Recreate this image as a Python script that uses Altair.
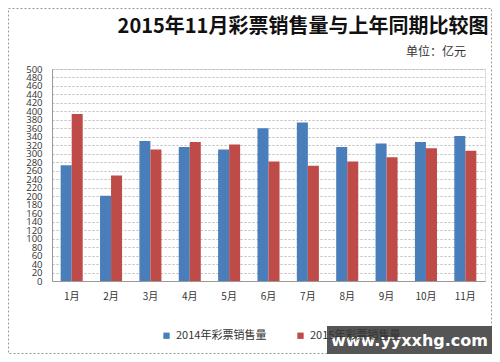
import altair as alt
import pandas as pd

months = ["1月", "2月", "3月", "4月", "5月", "6月", "7月", "8月", "9月", "10月", "11月"]
sales_2014 = [273, 201, 330, 316, 310, 360, 374, 316, 324, 328, 342]
sales_2015 = [394, 249, 310, 328, 322, 282, 272, 282, 292, 313, 307]
series = ["2014年彩票销售量", "2015年彩票销售量"]
colors = ["#4A7EBB", "#BE4B48"]
title_text = "2015年11月彩票销售量与上年同期比较图"
unit_text = "单位：亿元"
watermark_text = "www.yyxxhg.com"

rows = []
for i, m in enumerate(months):
    rows.append({"month": m, "series": series[0], "value": sales_2014[i]})
    rows.append({"month": m, "series": series[1], "value": sales_2015[i]})
df = pd.DataFrame(rows)

FONT = "Noto Sans CJK SC"

bars = alt.Chart(df).mark_bar().encode(
    x=alt.X("month:N", sort=months, title=None,
            scale=alt.Scale(paddingInner=0.44, paddingOuter=0.22),
            axis=alt.Axis(labelAngle=0, ticks=False, labelPadding=10, labelFontSize=10,
                          labelColor="#333333", domainColor="#999999", labelFont=FONT)),
    xOffset=alt.XOffset("series:N", sort=series),
    y=alt.Y("value:Q", title=None,
            scale=alt.Scale(domain=[0, 500], nice=False),
            axis=alt.Axis(values=list(range(0, 501, 20)), ticks=False, labelPadding=10,
                          labelFontSize=9.5, labelColor="#333333", domainColor="#999999",
                          labelOverlap=False, labelFont="Open Sans",
                          gridColor="#bbbbbb", gridDash=[2, 2])),
    color=alt.Color("series:N", sort=series,
                    scale=alt.Scale(domain=series, range=colors),
                    legend=alt.Legend(title=None, orient="none", legendX=109, legendY=261,
                                      direction="horizontal", symbolType="square",
                                      symbolSize=40, labelFontSize=11, labelColor="#333333",
                                      columnPadding=28, labelFont=FONT)),
)

title_df = pd.DataFrame({"t": [title_text]})
title = alt.Chart(title_df).mark_text(font=FONT, fontSize=20, fontWeight="bold",
                                      color="#111111", align="center", baseline="middle").encode(
    text="t:N", x=alt.value(251), y=alt.value(-42))

unit_df = pd.DataFrame({"t": [unit_text]})
unit = alt.Chart(unit_df).mark_text(font=FONT, fontSize=12, color="#333333",
                                    align="center", baseline="middle").encode(
    text="t:N", x=alt.value(384), y=alt.value(-17))

border = alt.Chart(title_df).mark_rect(fill=None, stroke="#999999", strokeWidth=1,
                                       strokeDash=[2, 2]).encode(
    x=alt.value(-43.5), x2=alt.value(439.5), y=alt.value(-60.5), y2=alt.value(284.5))

wm_box = alt.Chart(title_df).mark_rect(fill="#555555").encode(
    x=alt.value(275), x2=alt.value(440), y=alt.value(257), y2=alt.value(286))

wm_df = pd.DataFrame({"t": [watermark_text]})
wm_text = alt.Chart(wm_df).mark_text(font="DejaVu Sans", fontSize=16, fontWeight="bold",
                                     color="#ffffff", align="center", baseline="middle").encode(
    text="t:N", x=alt.value(357.5), y=alt.value(271.5))

chart = alt.layer(border, bars, title, unit, wm_box, wm_text).properties(
    width=433, height=212,
    autosize=alt.AutoSizeParams(type="none"),
    padding={"left": 44, "top": 61, "right": 7, "bottom": 73},
).configure_view(stroke=None).configure(background="white")

chart.save("out.html", embed_options={"renderer": "svg", "actions": False})
